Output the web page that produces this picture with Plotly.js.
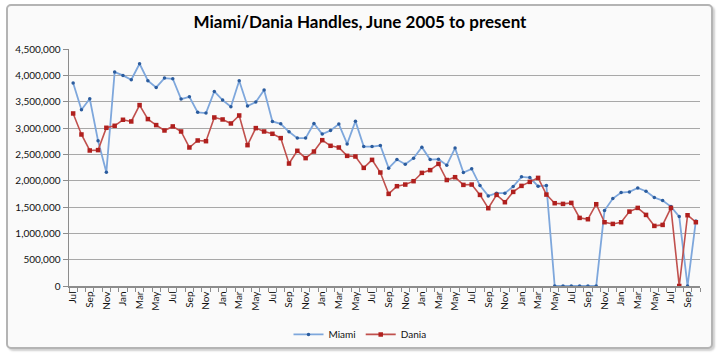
<!DOCTYPE html>
<html>
<head>
<meta charset="utf-8">
<script src="https://cdn.plot.ly/plotly-3.0.1.min.js"></script>
<style>
  html, body { margin:0; padding:0; background:#ffffff; }
  #frame { position:absolute; left:6px; top:4px; width:703px; height:341px;
           border:2px solid #b4b4b4; border-radius:5px; background:#fafafa;
           box-shadow: 2px 2px 2px #d0d0d0; }
  #chart { position:absolute; left:0; top:0; width:720px; height:355px; }
</style>
</head>
<body>
<div id="frame"></div>
<div id="chart"></div>
<script>
// Monthly categories, Jul 2005 .. Oct 2011
const monthLabels = [
  "Jul","Aug","Sep","Oct","Nov","Dec",
  "Jan","Feb","Mar","Apr","May","Jun","Jul","Aug","Sep","Oct","Nov","Dec",
  "Jan","Feb","Mar","Apr","May","Jun","Jul","Aug","Sep","Oct","Nov","Dec",
  "Jan","Feb","Mar","Apr","May","Jun","Jul","Aug","Sep","Oct","Nov","Dec",
  "Jan","Feb","Mar","Apr","May","Jun","Jul","Aug","Sep","Oct","Nov","Dec",
  "Jan","Feb","Mar","Apr","May","Jun","Jul","Aug","Sep","Oct","Nov","Dec",
  "Jan","Feb","Mar","Apr","May","Jun","Jul","Aug","Sep","Oct"
];

const miami = [
  3854000, 3346000, 3555000, 2757000, 2161000, 4062000, 3999000, 3916000, 4220000, 3897000,
  3770000, 3948000, 3935000, 3549000, 3593000, 3297000, 3283000, 3694000, 3530000, 3403000,
  3897000, 3416000, 3492000, 3720000, 3124000, 3080000, 2928000, 2808000, 2808000, 3086000,
  2884000, 2953000, 3074000, 2697000, 3130000, 2648000, 2648000, 2667000, 2237000, 2401000,
  2313000, 2427000, 2636000, 2401000, 2408000, 2295000, 2618000, 2155000, 2224000, 1907000,
  1711000, 1762000, 1762000, 1888000, 2072000, 2059000, 1895000, 1907000, 0, 0,
  0, 0, 0, 0, 1432000, 1660000, 1774000, 1787000, 1863000, 1800000,
  1679000, 1622000, 1508000, 1318000, 0, 1236000
];

const dania = [
  3276000, 2877000, 2573000, 2580000, 3004000, 3042000, 3156000, 3124000, 3435000, 3169000,
  3055000, 2953000, 3030000, 2934000, 2630000, 2763000, 2750000, 3200000, 3162000, 3086000,
  3238000, 2674000, 2998000, 2934000, 2890000, 2808000, 2325000, 2567000, 2428000, 2553000,
  2769000, 2662000, 2630000, 2471000, 2459000, 2243000, 2395000, 2155000, 1749000, 1895000,
  1926000, 1990000, 2148000, 2200000, 2319000, 2012000, 2066000, 1920000, 1926000, 1730000,
  1477000, 1730000, 1591000, 1787000, 1901000, 1977000, 2053000, 1736000, 1572000, 1559000,
  1578000, 1293000, 1268000, 1553000, 1211000, 1179000, 1211000, 1413000, 1483000, 1350000,
  1141000, 1160000, 1483000, 0, 1344000, 1211000
];

const idx = monthLabels.map((_, i) => i);
const tickIdx = idx.filter(i => i % 2 === 0);
const tickTxt = tickIdx.map(i => monthLabels[i]);

const traces = [
  { x: idx, y: miami, name: "Miami", type: "scatter", mode: "lines+markers",
    line: { color: "#7ea7dc", width: 1.8 },
    marker: { symbol: "circle", size: 3.5, color: "#2b5c9e" } },
  { x: idx, y: dania, name: "Dania", type: "scatter", mode: "lines+markers",
    line: { color: "#c0504d", width: 1.6 },
    marker: { symbol: "square", size: 4.5, color: "#b0201e" } }
];

const layout = {
  width: 720, height: 355,
  margin: { l: 69, r: 20, t: 49, b: 69 },
  paper_bgcolor: "rgba(0,0,0,0)",
  plot_bgcolor: "rgba(0,0,0,0)",
  font: { family: "Lato, 'Open Sans', sans-serif", color: "#111", size: 10 },
  title: { text: "<b>Miami/Dania Handles, June 2005 to present</b>",
           font: { family: "Lato, 'Open Sans', sans-serif", size: 17, color: "#000" },
           x: 0.5, xref: "container", xanchor: "center",
           y: 0.938, yref: "container", yanchor: "middle" },
  xaxis: {
    range: [-0.5, 75.5], tickmode: "array", tickvals: tickIdx, ticktext: tickTxt,
    tickangle: -90, ticks: "", showgrid: false, zeroline: false,
    showline: true, linecolor: "#8c8c8c", linewidth: 1.5,
    tickfont: { size: 10, color: "#111" },
    minor: { tick0: -0.5, dtick: 1, ticks: "outside", ticklen: 4, tickcolor: "#8c8c8c", showgrid: false }
  },
  yaxis: {
    range: [0, 4500000], dtick: 500000, tickformat: ",d",
    ticks: "outside", ticklen: 5, tickcolor: "#8c8c8c",
    showline: true, linecolor: "#8c8c8c", linewidth: 1.5,
    gridcolor: "#a8a8a8", gridwidth: 1, zeroline: false,
    tickfont: { size: 10, color: "#111" }
  },
  showlegend: true,
  legend: { orientation: "h", x: 0.5, xref: "container", xanchor: "center",
            y: 0.058, yref: "container", yanchor: "middle",
            font: { size: 10, color: "#111" }, bgcolor: "rgba(0,0,0,0)" }
};

Plotly.newPlot("chart", traces, layout, { displayModeBar: false, staticPlot: true });
</script>
</body>
</html>
